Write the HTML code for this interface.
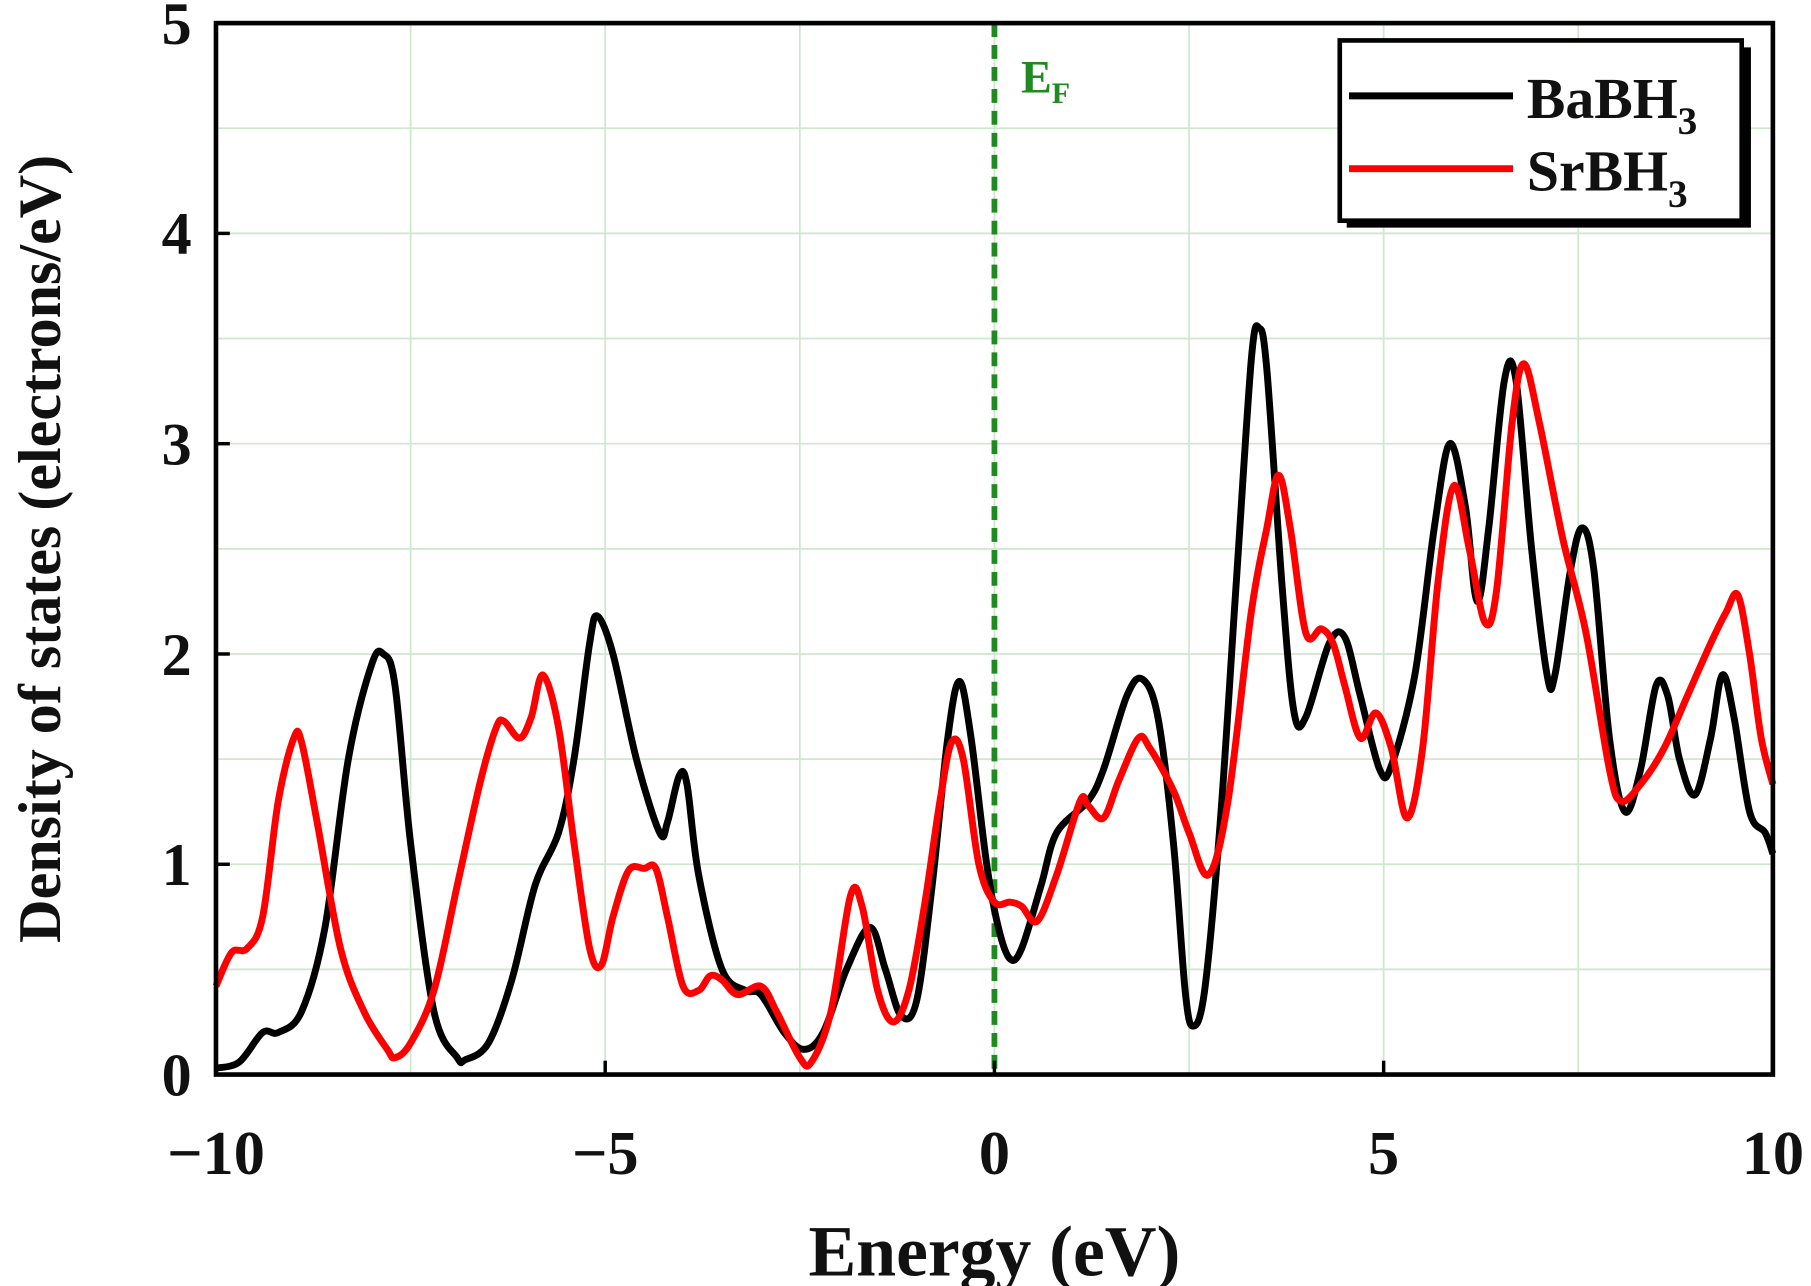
<!DOCTYPE html>
<html><head><style>html,body{margin:0;padding:0;background:#fff}svg{display:block}</style></head>
<body>
<svg id="s" width="1811" height="1286" viewBox="0 0 1568 1113" preserveAspectRatio="none" xmlns="http://www.w3.org/2000/svg" font-family="Liberation Serif, serif" font-weight="bold">
<rect width="1568" height="1113" fill="#fff"/>
<g id="grid" stroke="#cfe6cf" stroke-width="1.5"></g>
<line x1="861" y1="20" x2="861" y2="930" stroke="#1f8a1f" stroke-width="5" stroke-dasharray="12,7"/>
<path id="blk" fill="none" stroke="#000" stroke-width="6" stroke-linejoin="round"/>
<path id="red" fill="none" stroke="#f00" stroke-width="6" stroke-linejoin="round"/>
<rect x="187" y="20" width="1348" height="910" fill="none" stroke="#000" stroke-width="4"/>
<g id="ticks" stroke="#000" stroke-width="3"></g>
<g font-size="52" text-anchor="end" fill="#111">
<text x="166" y="948">0</text><text x="166" y="766">1</text><text x="166" y="584">2</text><text x="166" y="402">3</text><text x="166" y="220">4</text><text x="166" y="38">5</text>
</g>
<g font-size="54" text-anchor="middle" fill="#111">
<text x="187" y="1016">−10</text><text x="524" y="1016">−5</text><text x="861" y="1016">0</text><text x="1198" y="1016">5</text><text x="1535" y="1016">10</text>
</g>
<text x="861" y="1104" font-size="62" text-anchor="middle" fill="#111">Energy (eV)</text>
<text transform="translate(52,475) rotate(-90)" font-size="52" text-anchor="middle" fill="#111">Density of states (electrons/eV)</text>
<text x="884" y="80" font-size="40" fill="#1f8a1f">E<tspan font-size="26" dy="9">F</tspan></text>
<rect x="1166" y="41" width="350" height="156" fill="#000"/>
<rect x="1160" y="35" width="348" height="156" fill="#fff" stroke="#000" stroke-width="4"/>
<line x1="1168" y1="83" x2="1310" y2="83" stroke="#000" stroke-width="6"/>
<line x1="1168" y1="146" x2="1310" y2="146" stroke="#f00" stroke-width="6"/>
<text x="1322" y="102" font-size="50" fill="#111">BaBH<tspan font-size="34" dy="14">3</tspan></text>
<text x="1322" y="165" font-size="50" fill="#111">SrBH<tspan font-size="34" dy="14">3</tspan></text>
</svg>
<script>
const X=e=>861+e*67.4, Y=d=>930-d*182;
const B=[[-10,0.03],[-9.7,0.06],[-9.4,0.2],[-9.2,0.2],[-8.9,0.3],[-8.6,0.7],[-8.3,1.5],[-8.0,1.95],[-7.85,2.0],[-7.7,1.85],[-7.5,1.1],[-7.2,0.3],[-6.9,0.08],[-6.8,0.07],[-6.5,0.15],[-6.2,0.45],[-5.9,0.9],[-5.6,1.15],[-5.4,1.5],[-5.2,2.05],[-5.1,2.18],[-4.9,2.0],[-4.6,1.5],[-4.3,1.15],[-4.2,1.2],[-4.05,1.42],[-3.95,1.38],[-3.8,0.95],[-3.5,0.5],[-3.2,0.4],[-3.0,0.38],[-2.7,0.2],[-2.45,0.12],[-2.2,0.2],[-1.9,0.5],[-1.6,0.7],[-1.4,0.5],[-1.2,0.28],[-1.0,0.35],[-0.8,0.9],[-0.6,1.6],[-0.45,1.87],[-0.3,1.6],[-0.1,1.0],[0.05,0.7],[0.2,0.55],[0.35,0.6],[0.6,0.9],[0.8,1.15],[1.2,1.3],[1.4,1.45],[1.7,1.8],[1.9,1.88],[2.1,1.7],[2.3,1.1],[2.45,0.4],[2.55,0.23],[2.7,0.4],[2.9,1.2],[3.1,2.3],[3.3,3.4],[3.4,3.55],[3.5,3.35],[3.7,2.3],[3.85,1.72],[4.0,1.7],[4.3,2.05],[4.5,2.08],[4.7,1.8],[4.95,1.45],[5.1,1.47],[5.4,1.9],[5.65,2.6],[5.85,3.0],[6.05,2.7],[6.2,2.25],[6.35,2.6],[6.55,3.3],[6.7,3.3],[6.9,2.5],[7.1,1.9],[7.2,1.9],[7.4,2.4],[7.55,2.6],[7.7,2.4],[7.9,1.6],[8.1,1.25],[8.3,1.45],[8.5,1.85],[8.65,1.8],[8.8,1.5],[9.0,1.33],[9.2,1.6],[9.35,1.9],[9.5,1.7],[9.7,1.25],[9.9,1.15],[10,1.05]];
const R=[[-10,0.42],[-9.8,0.58],[-9.6,0.6],[-9.4,0.75],[-9.2,1.3],[-9.0,1.6],[-8.9,1.58],[-8.7,1.2],[-8.4,0.6],[-8.1,0.3],[-7.8,0.12],[-7.7,0.08],[-7.5,0.15],[-7.2,0.4],[-6.9,0.9],[-6.6,1.4],[-6.4,1.65],[-6.3,1.68],[-6.1,1.6],[-5.95,1.7],[-5.8,1.9],[-5.6,1.65],[-5.4,1.1],[-5.2,0.6],[-5.05,0.52],[-4.9,0.75],[-4.7,0.97],[-4.5,0.98],[-4.35,0.98],[-4.2,0.75],[-4.0,0.42],[-3.8,0.4],[-3.65,0.47],[-3.5,0.45],[-3.3,0.38],[-3.0,0.42],[-2.8,0.3],[-2.5,0.08],[-2.35,0.06],[-2.1,0.3],[-1.85,0.85],[-1.7,0.8],[-1.5,0.4],[-1.3,0.25],[-1.1,0.4],[-0.9,0.8],[-0.7,1.3],[-0.55,1.58],[-0.4,1.5],[-0.2,1.0],[0.0,0.82],[0.2,0.82],[0.35,0.8],[0.55,0.73],[0.8,0.95],[1.1,1.3],[1.2,1.28],[1.4,1.22],[1.6,1.4],[1.85,1.6],[2.0,1.55],[2.3,1.35],[2.5,1.15],[2.75,0.95],[3.0,1.3],[3.3,2.2],[3.5,2.6],[3.65,2.85],[3.8,2.6],[4.0,2.1],[4.2,2.12],[4.35,2.05],[4.5,1.85],[4.7,1.6],[4.9,1.72],[5.1,1.55],[5.3,1.22],[5.5,1.55],[5.7,2.35],[5.9,2.8],[6.1,2.5],[6.3,2.15],[6.45,2.3],[6.65,3.1],[6.8,3.38],[7.0,3.1],[7.3,2.55],[7.6,2.1],[7.9,1.45],[8.05,1.3],[8.3,1.38],[8.6,1.55],[8.9,1.8],[9.2,2.05],[9.4,2.2],[9.55,2.28],[9.7,2.0],[9.85,1.6],[10,1.38]];
function path(a){const p=a.map(([e,d])=>[X(e),Y(d)]);let s=`M${p[0][0]},${p[0][1]}`;
for(let i=0;i<p.length-1;i++){const p0=p[Math.max(i-1,0)],p1=p[i],p2=p[i+1],p3=p[Math.min(i+2,p.length-1)];
const c1=[p1[0]+(p2[0]-p0[0])/6,p1[1]+(p2[1]-p0[1])/6],c2=[p2[0]-(p3[0]-p1[0])/6,p2[1]-(p3[1]-p1[1])/6];
s+=`C${c1[0].toFixed(1)},${c1[1].toFixed(1)} ${c2[0].toFixed(1)},${c2[1].toFixed(1)} ${p2[0].toFixed(1)},${p2[1].toFixed(1)}`;}return s;}
document.getElementById('blk').setAttribute('d',path(B));
document.getElementById('red').setAttribute('d',path(R));
const ns='http://www.w3.org/2000/svg';const g=document.getElementById('grid'),t=document.getElementById('ticks');
function ln(par,x1,y1,x2,y2){const l=document.createElementNS(ns,'line');l.setAttribute('x1',x1);l.setAttribute('y1',y1);l.setAttribute('x2',x2);l.setAttribute('y2',y2);par.appendChild(l);}
for(let e=-7.5;e<10;e+=2.5)ln(g,X(e),20,X(e),930);
for(let d=0.5;d<5;d+=0.5)ln(g,187,Y(d),1535,Y(d));
for(let d=0;d<=5;d++)ln(t,187,Y(d),199,Y(d));
for(let e=-10;e<=10;e+=5)ln(t,X(e),930,X(e),918);
</script>
</body></html>
